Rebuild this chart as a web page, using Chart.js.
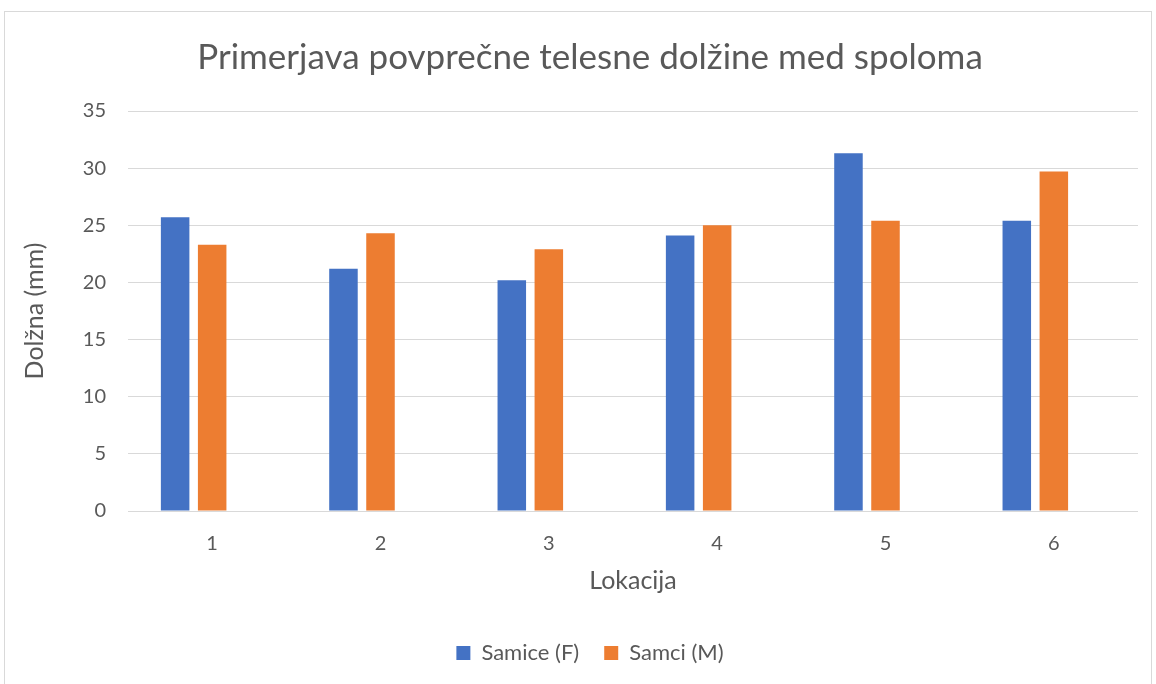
<!DOCTYPE html>
<html>
<head>
<meta charset="utf-8">
<script src="https://cdn.jsdelivr.net/npm/chart.js@4.4.0/dist/chart.umd.min.js"></script>
<style>
  html, body { margin: 0; padding: 0; background: #fff; }
  #frame {
    position: absolute; left: 4px; top: 11px; width: 1146px; height: 700px;
    border: 1px solid #d9d9d9;
  }
  #wrap { position: absolute; left: 0; top: 0; width: 1156px; height: 684px; }
</style>
</head>
<body>
<div id="frame"></div>
<div id="wrap"><canvas id="lengthChart" width="1156" height="684"></canvas></div>
<script>
// Lokacije in povprečne dolžine (mm)
const locations = ['1', '2', '3', '4', '5', '6'];
const femaleLength = [25.7, 21.2, 20.2, 24.1, 31.3, 25.4];
const maleLength = [23.3, 24.3, 22.9, 25.0, 25.4, 29.7];
// tretja serija je v izvirniku prazna, a zaseda prostor v skupini
const emptySeries = [null, null, null, null, null, null];
const yTicks = [0, 5, 10, 15, 20, 25, 30, 35];

const textColor = '#595959';
const fontFamily = 'Lato, "Open Sans", sans-serif';

window.onload = function() {
    renderChart();
};

function renderChart() {
    var ctx = document.getElementById('lengthChart').getContext('2d');
    var lengthChart = new Chart(ctx, {
        type: 'bar',
        data: {
            labels: locations,
            datasets: [{
                label: 'Samice (F)',
                data: femaleLength,
                backgroundColor: '#4472C4'
            }, {
                label: 'Samci (M)',
                data: maleLength,
                backgroundColor: '#ED7D31'
            }, {
                label: '',
                data: emptySeries,
                backgroundColor: '#A5A5A5'
            }]
        },
        options: {
            responsive: false,
            animation: false,
            categoryPercentage: 0.66,
            barPercentage: 0.77,
            layout: {
                padding: { left: 42, right: 18, top: 0, bottom: 10 }
            },
            plugins: {
                title: {
                    display: true,
                    text: 'Primerjava povprečne telesne dolžine med spoloma',
                    color: textColor,
                    font: { family: fontFamily, size: 35, weight: 'normal' },
                    padding: { top: 37, bottom: 32 }
                },
                legend: {
                    position: 'bottom',
                    labels: {
                        color: textColor,
                        font: { family: fontFamily, size: 22 },
                        boxWidth: 14,
                        boxHeight: 14,
                        padding: 25,
                        filter: function(item) { return item.datasetIndex < 2; }
                    }
                },
                tooltip: { enabled: false }
            },
            scales: {
                x: {
                    grid: { display: false, drawTicks: false },
                    border: { display: false },
                    ticks: {
                        color: textColor,
                        font: { family: fontFamily, size: 20 },
                        padding: 21
                    },
                    title: {
                        display: true,
                        text: 'Lokacija',
                        color: textColor,
                        font: { family: fontFamily, size: 25 },
                        padding: { top: 0, bottom: 21 }
                    },
                    afterFit: function(scale) { scale.height = 106; }
                },
                y: {
                    min: 0,
                    max: 35,
                    grid: { color: '#d9d9d9', lineWidth: 1, drawTicks: false },
                    border: { display: false },
                    afterBuildTicks: function(scale) {
                        scale.ticks = yTicks.map(function(v) { return { value: v }; });
                    },
                    ticks: {
                        color: textColor,
                        font: { family: fontFamily, size: 20 },
                        padding: 22
                    },
                    title: {
                        display: true,
                        text: 'Dolžna (mm)',
                        color: textColor,
                        font: { family: fontFamily, size: 25 },
                        padding: { top: -22, bottom: 0 }
                    },
                    afterFit: function(scale) { scale.width = 86; }
                }
            }
        }
    });
}
</script>
</body>
</html>
